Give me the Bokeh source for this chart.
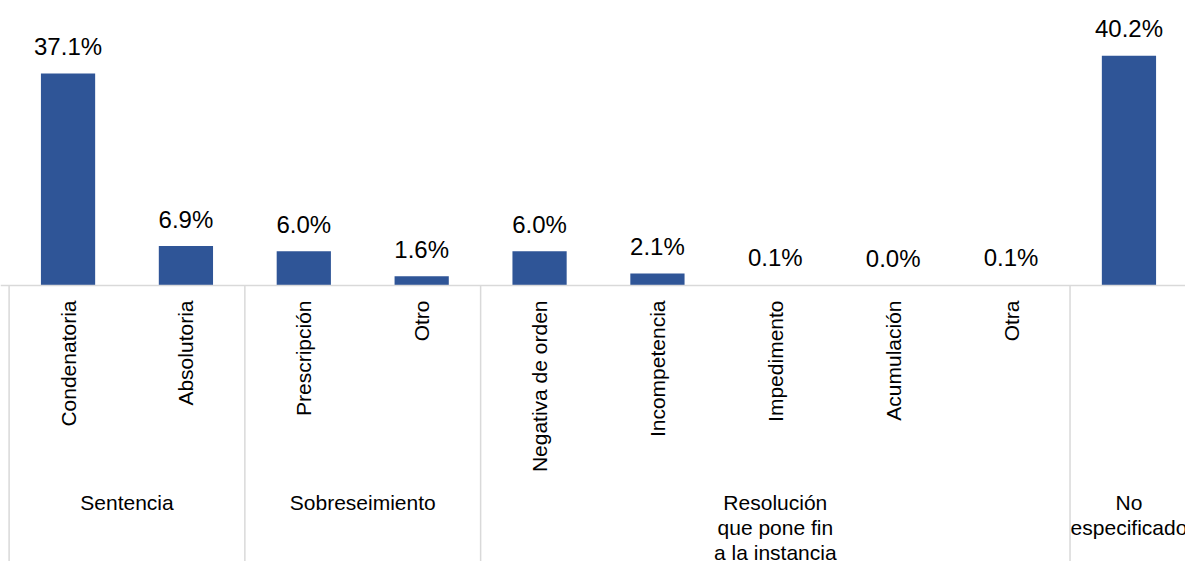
import numpy as np
from bokeh.plotting import figure
from bokeh.models import ColumnDataSource, Range1d, Span
from bokeh.core.properties import value
from bokeh.embed import file_html
from bokeh.resources import INLINE

# ---- data ----
categories = ["Condenatoria", "Absolutoria", "Prescripción", "Otro",
              "Negativa de orden", "Incompetencia", "Impedimento",
              "Acumulación", "Otra", ""]
values = [37.1, 6.9, 6.0, 1.6, 6.0, 2.1, 0.1, 0.0, 0.1, 40.2]
groups = ["Sentencia", "Sobreseimiento",
          "Resolución\nque pone fin\na la instancia", "No\nespecificado"]
group_sizes = [2, 2, 5, 1]

# ---- derived ----
n = len(categories)
xs = np.arange(n) + 0.5
labels = [f"{v:.1f}%" for v in values]
bounds = np.concatenate([[0], np.cumsum(group_sizes)])
group_centers = (bounds[:-1] + bounds[1:]) / 2.0
sep_x = bounds[:-1]

FONT = "Liberation Sans"
BAR = "#2F5597"
GRID = "#D9D9D9"

W, H = 1185, 561
px_per_unit = 5.714
baseline_px = 285  # from top of frame
y_end = baseline_px / px_per_unit
y_start = -(H - baseline_px) / px_per_unit
slot_px = 117.88
left_px = 8.6
x_start = -left_px / slot_px
x_end = (W - left_px) / slot_px

p = figure(width=W, height=H, output_backend="svg", toolbar_location=None,
           x_range=Range1d(x_start, x_end), y_range=Range1d(y_start, y_end),
           x_axis_location=None, y_axis_location=None, min_border=0,
           outline_line_color=None, background_fill_color="white",
           border_fill_color="white")
p.xgrid.visible = False
p.ygrid.visible = False

src = ColumnDataSource(dict(x=xs, top=values, lab=labels, cat=categories))

p.vbar(x="x", top="top", bottom=0, width=0.46, source=src,
       fill_color=BAR, line_color=None)

# data labels
p.text(x="x", y="top", text="lab", source=src, text_font=value(FONT),
       text_font_size="24px", text_color="#000000", text_align="center",
       text_baseline="middle", y_offset=-27)

# baseline
p.add_layout(Span(location=0, dimension="width", line_color=GRID, line_width=1.5))

# group separators
p.segment(x0=sep_x, y0=[0] * len(sep_x), x1=sep_x, y1=[y_start] * len(sep_x),
          line_color=GRID, line_width=1.5)

# rotated category labels
p.text(x="x", y=0, text="cat", source=src, text_font=value(FONT),
       text_font_size="21px", text_color="#000000", angle=np.pi / 2,
       text_align="right", text_baseline="middle", y_offset=15)

# group labels
p.text(x=group_centers, y=[0] * len(groups), text=groups, text_font=value(FONT),
       text_font_size="21px", text_color="#000000", text_align="center",
       text_baseline="top", y_offset=205, text_line_height=1.1)

open("out.html", "w").write(file_html(p, INLINE))
